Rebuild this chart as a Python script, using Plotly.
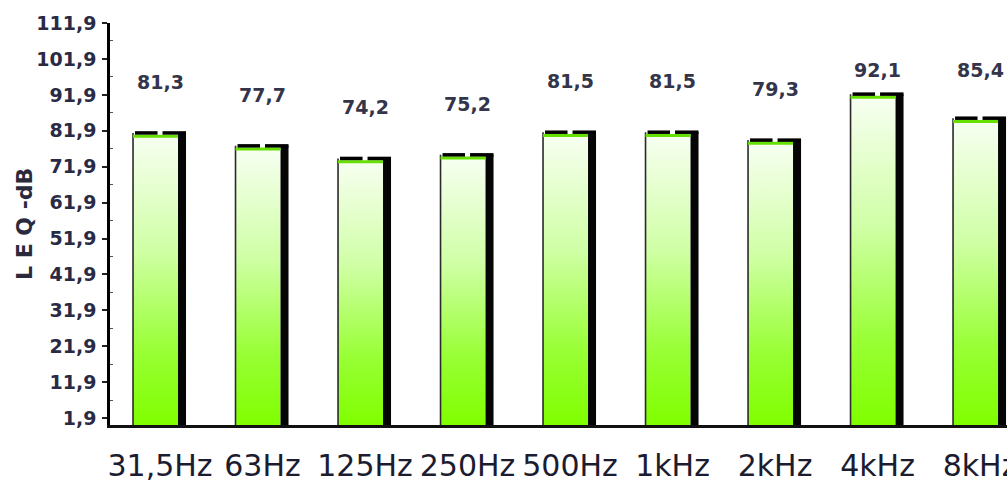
import plotly.graph_objects as go

# Octave-band LEQ levels
categories = ["31,5Hz", "63Hz", "125Hz", "250Hz", "500Hz", "1kHz", "2kHz", "4kHz", "8kHz"]
leq_values = [81.3, 77.7, 74.2, 75.2, 81.5, 81.5, 79.3, 92.1, 85.4]

# Y axis ticks
y_tick_values = [1.9, 11.9, 21.9, 31.9, 41.9, 51.9, 61.9, 71.9, 81.9, 91.9, 101.9, 111.9]
y_tick_labels = ["1,9", "11,9", "21,9", "31,9", "41,9", "51,9", "61,9", "71,9", "81,9", "91,9", "101,9", "111,9"]

# Figure geometry
W, H = 1007, 482
ML, MR, MT, MB = 110, 0, 23, 57
X_RANGE = [-0.488, 8.263]
Y_RANGE = [0, 111.9]
px_x = (W - ML - MR) / (X_RANGE[1] - X_RANGE[0])   # pixels per category unit
px_y = (H - MT - MB) / (Y_RANGE[1] - Y_RANGE[0])   # pixels per dB

# bar pieces, in pixels relative to category centre
FRONT_L, FRONT_R, SIDE_R = -27, 18, 26

gradient = dict(
    type="vertical",
    colorscale=[[0.0, "#80ff00"], [0.25, "#98ff34"], [0.6, "#d0ffa6"], [1.0, "#f8fff3"]],
)

fig = go.Figure()

for i, v in enumerate(leq_values):
    x0 = i + FRONT_L / px_x
    x1 = i + FRONT_R / px_x
    x2 = i + SIDE_R / px_x
    # front face with white-to-green gradient
    fig.add_trace(go.Scatter(
        x=[x0, x0, x1, x1, x0], y=[0, v, v, 0, 0],
        mode="lines", fill="toself", line=dict(width=0, color="rgba(0,0,0,0)"),
        fillgradient=dict(gradient, start=0, stop=v),
        hoverinfo="skip", showlegend=False,
    ))
    # left edge
    fig.add_trace(go.Scatter(
        x=[x0, x0], y=[0, v], mode="lines",
        line=dict(color="#2a2a2a", width=1.6),
        hoverinfo="skip", showlegend=False,
    ))
    # dark side face
    fig.add_trace(go.Scatter(
        x=[x1, x1, x2, x2, x1], y=[0, v, v, 0, 0],
        mode="lines", fill="toself", fillcolor="#050505",
        line=dict(width=0, color="rgba(0,0,0,0)"),
        hoverinfo="skip", showlegend=False,
    ))
    # green rim under the top edge
    fig.add_trace(go.Scatter(
        x=[x0, x1], y=[v - 3.2 / px_y] * 2, mode="lines",
        line=dict(color="#66e000", width=3),
        hoverinfo="skip", showlegend=False,
    ))
    # black top edge, broken in the middle
    gap = 2.5 / px_x
    fig.add_trace(go.Scatter(
        x=[x0 + 2 / px_x, i - gap, None, i + gap, x2], y=[v, v, None, v, v],
        mode="lines", line=dict(color="#000000", width=3.5),
        hoverinfo="skip", showlegend=False,
    ))

# value labels above the bars, kept below the top of the chart
label_cap = Y_RANGE[1] - (70 - MT) / px_y
for i, v in enumerate(leq_values):
    fig.add_annotation(
        x=i, y=min(v + 51 / px_y, label_cap),
        text=f"{v:.1f}".replace(".", ","), showarrow=False,
        xanchor="center", yanchor="middle",
        font=dict(family="DejaVu Sans", size=19, color="#34354a", weight="bold"),
    )

# y axis title
fig.add_annotation(
    xref="paper", yref="paper", x=(24 - ML) / (W - ML - MR), y=0.5,
    text="L E Q -dB", textangle=-90, showarrow=False,
    xanchor="center", yanchor="middle",
    font=dict(family="DejaVu Sans", size=22, color="#2a2a3c", weight="bold"),
)

fig.update_layout(
    width=W, height=H,
    margin=dict(l=ML, r=MR, t=MT, b=MB, pad=0, autoexpand=False),
    paper_bgcolor="white", plot_bgcolor="white",
    showlegend=False,
    xaxis=dict(
        range=X_RANGE, showgrid=False, zeroline=False, automargin=False,
        tickmode="array", tickvals=list(range(len(categories))), ticktext=categories,
        ticks="", ticklabelstandoff=12, ticklabeloverflow="allow",
        showline=True, linecolor="#111111", linewidth=2.5,
        tickfont=dict(family="DejaVu Sans", size=30, color="#1c1c30"),
    ),
    yaxis=dict(
        range=Y_RANGE, showgrid=False, zeroline=False, automargin=False,
        tickmode="array", tickvals=y_tick_values, ticktext=y_tick_labels,
        ticks="outside", ticklen=5, tickwidth=1.5, tickcolor="#222222",
        ticklabelstandoff=2,
        showline=True, linecolor="#000000", linewidth=2.5,
        tickfont=dict(family="DejaVu Sans", size=19, color="#2a2a44", weight="bold"),
        minor=dict(ticks="inside", ticklen=3, tickwidth=1, tickcolor="#555555",
                   tickvals=[6.9 + 10 * k for k in range(11)]),
    ),
)

fig.write_html("out.html")
